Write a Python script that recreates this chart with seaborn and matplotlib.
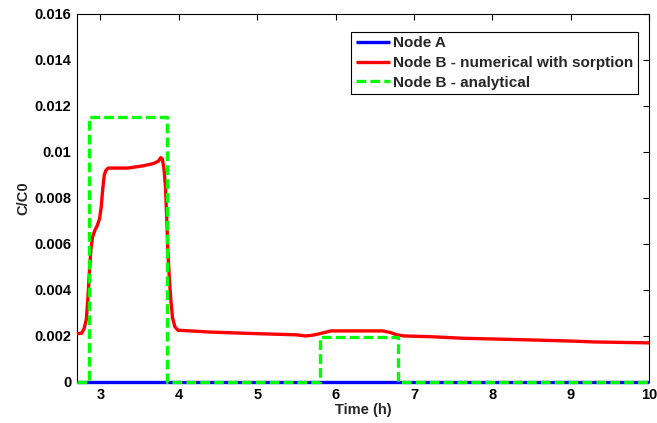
import matplotlib
matplotlib.use("Agg")
import matplotlib.pyplot as plt
import seaborn as sns
import pandas as pd

# Data
node_a_t = [2.7, 10.0]
node_a_v = [0.0, 0.0]

red_t = [2.7, 2.76, 2.79, 2.82, 2.84, 2.86, 2.88, 2.90, 2.93, 2.96, 2.99, 3.01,
         3.03, 3.05, 3.07, 3.10, 3.35, 3.55, 3.68, 3.74, 3.77, 3.79, 3.81, 3.83,
         3.85, 3.86, 3.88, 3.90, 3.92, 3.95, 3.99, 4.4, 5.0, 5.5, 5.62, 5.7, 5.8,
         5.94, 6.3, 6.6, 6.7, 6.78, 6.88, 7.2, 7.63, 8.0, 8.46, 9.0, 9.3, 10.0]
red_v = [0.0021, 0.00212, 0.0023, 0.0027, 0.0036, 0.0048, 0.0058, 0.0063, 0.0066,
         0.0068, 0.0071, 0.0076, 0.0084, 0.0090, 0.0092, 0.0093, 0.0093, 0.0094,
         0.0095, 0.0096, 0.00975, 0.0097, 0.0093, 0.0085, 0.0068, 0.0057, 0.0045,
         0.0035, 0.0028, 0.0024, 0.00225, 0.00217, 0.0021, 0.00205, 0.0020, 0.00203,
         0.0021, 0.00222, 0.00222, 0.00222, 0.00215, 0.00205, 0.0020, 0.00197,
         0.0019, 0.00187, 0.00183, 0.00178, 0.00174, 0.0017]

ana_t = [2.7, 2.85, 3.85, 5.8, 6.8, 10.0]
ana_v = [0.0, 0.0115, 0.0, 0.00195, 0.0, 0.0]

xticks = [3, 4, 5, 6, 7, 8, 9, 10]
yticks = [0, 0.002, 0.004, 0.006, 0.008, 0.01, 0.012, 0.014, 0.016]
ytick_labels = ["0", "0.002", "0.004", "0.006", "0.008", "0.01", "0.012", "0.014", "0.016"]

sns.set_style("white")
plt.rcParams["font.family"] = ["Liberation Sans", "DejaVu Sans"]
plt.rcParams["font.weight"] = "bold"
plt.rcParams["lines.scale_dashes"] = False

fp = dict(family=["Liberation Sans", "DejaVu Sans"], weight="bold")

fig = plt.figure(figsize=(6.57, 4.23), dpi=100)
ax = fig.add_axes([0.117, 0.097, 0.871, 0.870])

df_a = pd.DataFrame({"t": node_a_t, "v": node_a_v})
df_b = pd.DataFrame({"t": red_t, "v": red_v})
df_c = pd.DataFrame({"t": ana_t, "v": ana_v})

sns.lineplot(data=df_a, x="t", y="v", ax=ax, color="#0000ff", linewidth=2.4,
             label="Node A", estimator=None, sort=False)
sns.lineplot(data=df_b, x="t", y="v", ax=ax, color="#ff0000", linewidth=2.4,
             label="Node B - numerical with sorption", estimator=None, sort=False)
sns.lineplot(data=df_c, x="t", y="v", ax=ax, color="#00ff00", linewidth=2.4,
             label="Node B - analytical", estimator=None, sort=False,
             drawstyle="steps-post", linestyle="--")
ax.lines[2].set_dashes([7, 3])
for ln in ax.lines:
    ln.set_clip_on(False)
    ln.set_zorder(3)
    ln.set_solid_capstyle("butt")

ax.set_xlim(2.7, 10)
ax.set_ylim(0, 0.016)
ax.set_xticks(xticks)
ax.set_xticklabels([str(x) for x in xticks], fontsize=10.5, **fp)
ax.set_yticks(yticks)
ax.set_yticklabels(ytick_labels, fontsize=10.5, **fp)
ax.tick_params(direction="in", top=True, right=True, length=4, width=0.8,
               colors="black", pad=4)
for s in ax.spines.values():
    s.set_color("black")
    s.set_linewidth(0.8)
    s.set_zorder(2)
ax.set_xlabel("Time (h)", fontsize=10.5, labelpad=1, **fp)
ax.set_ylabel("C/C0", fontsize=10.5, labelpad=3, **fp)

leg = ax.legend(loc="upper right", bbox_to_anchor=(0.981, 0.952),
                prop=dict(family="Liberation Sans", weight="bold", size=11),
                frameon=True, fancybox=False, edgecolor="black", framealpha=1,
                handlelength=2.2, handletextpad=0.25, borderpad=0.3,
                labelspacing=0.38, borderaxespad=0)
leg.get_frame().set_linewidth(0.8)
leg.set_zorder(5)

fig.savefig("out.png", dpi=100)
